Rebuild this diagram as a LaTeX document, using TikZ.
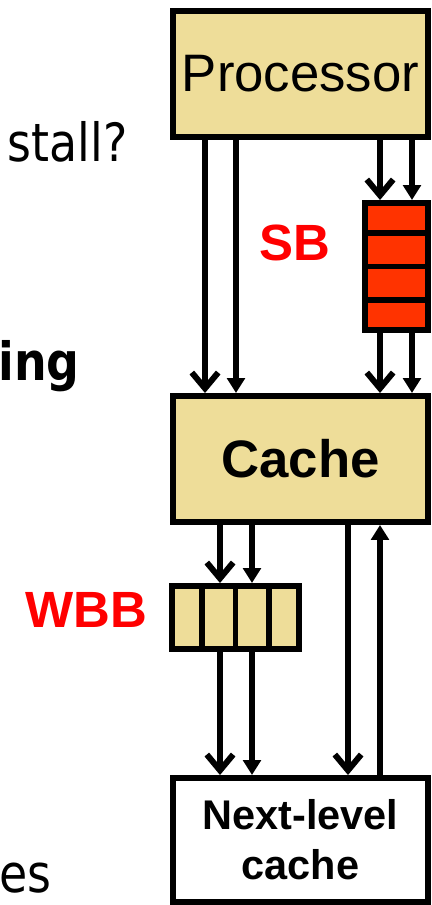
\documentclass[tikz,border=0pt]{standalone}
\usepackage{fontspec}
\setmainfont{Liberation Sans}
\newfontfamily\slidefont[FakeStretch=0.87]{DejaVu Sans}
\usepackage{tikz}
\usetikzlibrary{arrows.meta,calc}
\definecolor{cachetan}{RGB}{238,221,153}
\definecolor{sbred}{RGB}{255,51,0}

\tikzset{
  unit/.style={draw, line width=3.4pt, minimum width=5.1cm, minimum height=2.52cm, inner sep=0pt},
  buffer/.style={draw, line width=3.4pt, inner sep=0pt},
  opentip/.style={line width=3.4pt, -{Straight Barb[length=9pt,width=15pt]}},
  solidtip/.style={line width=3.4pt, -{Triangle[length=8.5pt,width=10pt]}},
  buflabel/.style={text=red, inner sep=0pt, font=\fontsize{29}{30}\selectfont\bfseries},
  sidetext/.style={anchor=base east, inner sep=0pt, font=\slidefont\fontsize{30}{32}\selectfont},
}

\begin{document}
\begin{tikzpicture}
  \useasboundingbox (0,0) rectangle (8.64,18.1);

  % boxes
  \node[unit, fill=cachetan, font=\fontsize{30}{32}\selectfont] (proc) at (6.01,16.62) {Processor};
  \node[unit, fill=cachetan, font=\fontsize{30}{32}\selectfont\bfseries] (cache) at (6.01,8.92) {Cache};
  \node[unit, minimum height=2.48cm, align=center, font=\fontsize{23.6}{28.5}\selectfont\bfseries] (next) at (6.01,1.3) {Next-level\\cache};

  % store buffer
  \node[buffer, fill=sbred, minimum width=1.26cm, minimum height=2.54cm] (sb) at (7.93,12.77) {};
  \foreach \f in {0.25,0.5,0.75}
    \draw[line width=3.4pt] ($(sb.north west)!\f!(sb.south west)$) -- ($(sb.north east)!\f!(sb.south east)$);
  \node[buflabel] (sblabel) at (5.9,13.24) {SB};

  % write-back buffer
  \node[buffer, fill=cachetan, minimum width=2.54cm, minimum height=1.26cm] (wbb) at (4.71,5.75) {};
  \foreach \f in {0.25,0.5,0.75}
    \draw[line width=3.4pt] ($(wbb.north west)!\f!(wbb.north east)$) -- ($(wbb.south west)!\f!(wbb.south east)$);
  \node[buflabel] (wbblabel) at (1.73,5.9) {WBB};

  % processor -> cache / SB
  \draw[opentip] (proc.south -| 4.1,0) -- (cache.north -| 4.1,0);
  \draw[solidtip] (proc.south -| 4.72,0) -- (cache.north -| 4.72,0);
  \draw[opentip] (proc.south -| 7.6,0) -- (sb.north -| 7.6,0);
  \draw[solidtip] (proc.south -| 8.24,0) -- (sb.north -| 8.24,0);
  \draw[opentip] (sb.south -| 7.6,0) -- (cache.north -| 7.6,0);
  \draw[solidtip] (sb.south -| 8.24,0) -- (cache.north -| 8.24,0);

  % cache -> WBB -> next level
  \draw[opentip] (cache.south -| 4.4,0) -- (wbb.north -| 4.4,0);
  \draw[solidtip] (cache.south -| 5.04,0) -- (wbb.north -| 5.04,0);
  \draw[opentip] (wbb.south -| 4.4,0) -- (next.north -| 4.4,0);
  \draw[solidtip] (wbb.south -| 5.04,0) -- (next.north -| 5.04,0);
  \draw[opentip] (cache.south -| 6.96,0) -- (next.north -| 6.96,0);
  \draw[solidtip] (next.north -| 7.6,0) -- (cache.south -| 7.6,0);

  % slide text cut off at the left
  \node[sidetext] (stall) at (2.56,14.86) {stall?};
  \node[sidetext, font=\slidefont\fontsize{30}{32}\selectfont\bfseries] (ing) at (1.6,10.48) {ing};
  \node[sidetext] (es) at (1.04,0.26) {es};
\end{tikzpicture}
\end{document}
